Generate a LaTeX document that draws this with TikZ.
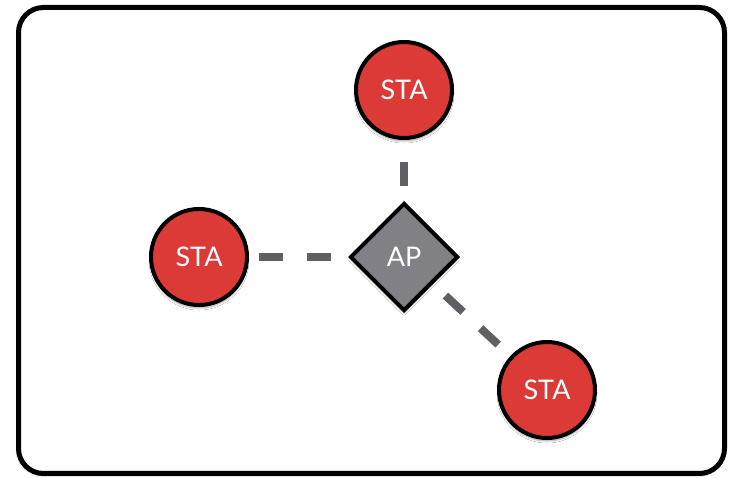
\documentclass[tikz,border=0pt]{standalone}
\usepackage{fontspec}
\setmainfont{Lato}
\usetikzlibrary{shapes.geometric,shadows.blur}
\definecolor{stared}{RGB}{220,58,55}
\definecolor{apgray}{RGB}{128,128,134}
\definecolor{dashgray}{RGB}{96,96,100}
\begin{document}
\begin{tikzpicture}[x=1pt,y=-1pt,
  sta/.style={circle,draw=black,line width=4pt,fill=stared,minimum size=96pt,inner sep=0pt,
    text=white,font=\fontsize{27}{27}\selectfont,
    blur shadow={shadow xshift=0pt,shadow yshift=-3pt,shadow blur steps=6,shadow opacity=35}},
  ap/.style={diamond,draw=black,line width=4pt,fill=apgray,minimum size=108pt,inner sep=0pt,
    text=white,font=\fontsize{27}{27}\selectfont,
    blur shadow={shadow xshift=0pt,shadow yshift=-3pt,shadow blur steps=6,shadow opacity=35}},
  link/.style={draw=dashgray,line width=8pt,dash pattern=on 24pt off 24pt}]
\useasboundingbox (0,0) rectangle (729,478);
\path[draw=black,line width=5pt,fill=white,rounded corners=25pt,
  blur shadow={shadow xshift=-1pt,shadow yshift=-2pt,shadow blur steps=6,shadow opacity=40}]
  (18.5,7.5) rectangle (724.5,473.5);
\node[ap] (ap) at (404,257) {AP};
\node[sta] (top) at (404,90) {STA};
\node[sta] (left) at (199,257) {STA};
\node[sta] (br) at (547,390) {STA};
\draw[link,shorten <=22pt,shorten >=15pt] (top.south) -- (ap.north);
\draw[link,shorten <=10pt,shorten >=15pt] (left.east) -- (ap.west);
\draw[link,shorten <=17pt,shorten >=8pt] (ap) -- (br);
\end{tikzpicture}
\end{document}
